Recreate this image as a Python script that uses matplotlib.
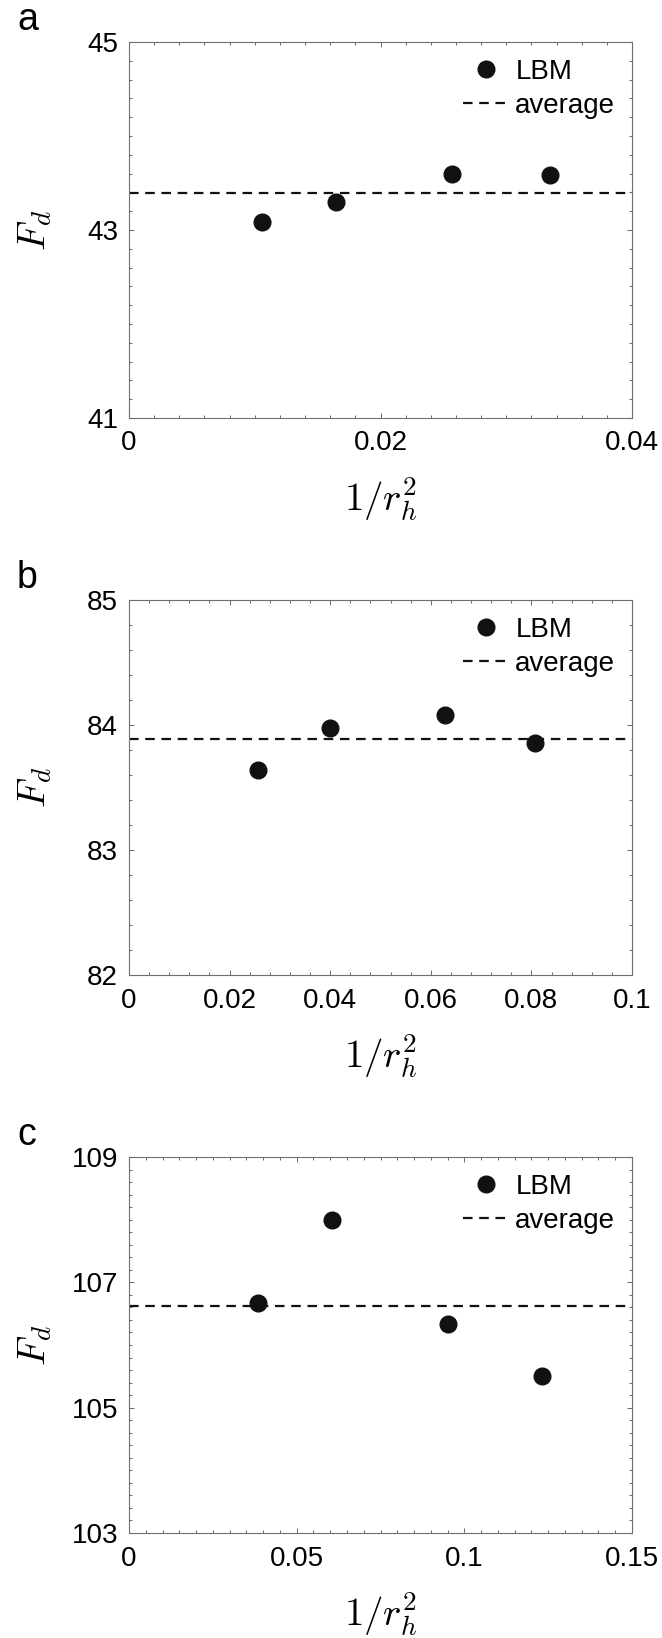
import numpy as np
import matplotlib
matplotlib.use("Agg")
import matplotlib.pyplot as plt
from matplotlib.ticker import MultipleLocator, FixedLocator

plt.rcParams["font.family"] = ["Liberation Sans", "DejaVu Sans"]
plt.rcParams["mathtext.fontset"] = "cm"

# panel a
xa = [0.0106, 0.0165, 0.0257, 0.0335]
ya = [43.08, 43.30, 43.60, 43.59]
# panel b
xb = [0.0256, 0.0399, 0.0628, 0.0808]
yb = [83.64, 83.98, 84.08, 83.86]
# panel c
xc = [0.0384, 0.0604, 0.0950, 0.1233]
yc = [106.67, 107.99, 106.33, 105.51]

letters = ["a", "b", "c"]
xlims = [(0, 0.04), (0, 0.1), (0, 0.15)]
ylims = [(41, 45), (82, 85), (103, 109)]
xticks = [[0, 0.02, 0.04], [0, 0.02, 0.04, 0.06, 0.08, 0.1], [0, 0.05, 0.1, 0.15]]
xticklabels = [["0", "0.02", "0.04"],
               ["0", "0.02", "0.04", "0.06", "0.08", "0.1"],
               ["0", "0.05", "0.1", "0.15"]]
yticks = [[41, 43, 45], [82, 83, 84, 85], [103, 105, 107, 109]]
xminor = [0.002, 0.004, 0.005]
yminor = [0.2, 0.2, 0.2]

W, H = 662, 1638
fig = plt.figure(figsize=(W / 100, H / 100), dpi=100)

# axes boxes in pixels: (top, bottom)
boxes = [(42, 418), (600, 975), (1157, 1533)]
left, right = 129, 632
frame = "#6e6e6e"

for i, (xs, ys) in enumerate([(xa, ya), (xb, yb), (xc, yc)]):
    top, bot = boxes[i]
    ax = fig.add_axes([left / W, 1 - bot / H, (right - left) / W, (bot - top) / H])
    avg = np.mean(ys)
    ax.plot(xs, ys, "o", color="#111111", markersize=12, label="LBM", zorder=3)
    ax.axhline(avg, color="#111111", lw=1.6, ls=(0, (4.3, 3.0)), label="average")
    ax.set_xlim(*xlims[i])
    ax.set_ylim(*ylims[i])
    ax.xaxis.set_major_locator(FixedLocator(xticks[i]))
    ax.set_xticklabels(xticklabels[i])
    ax.yaxis.set_major_locator(FixedLocator(yticks[i]))
    ax.set_yticklabels([str(v) for v in yticks[i]])
    ax.xaxis.set_minor_locator(MultipleLocator(xminor[i]))
    ax.yaxis.set_minor_locator(MultipleLocator(yminor[i]))
    ax.tick_params(which="both", direction="in", top=True, right=True,
                   color=frame, width=0.75)
    ax.tick_params(which="major", length=3.5, labelsize=20)
    ax.tick_params(which="minor", length=2)
    ax.tick_params(axis="x", which="major", pad=9)
    ax.tick_params(axis="y", which="major", pad=8)
    for s in ax.spines.values():
        s.set_color(frame)
        s.set_linewidth(0.8)
    ax.set_xlabel(r"$1/r_h^2$", fontsize=28)
    ax.set_ylabel(r"$F_d$", fontsize=28)
    ax.xaxis.set_label_coords(0.5, -0.152)
    ax.yaxis.set_label_coords(-0.15, 0.5)
    ax.legend(loc="upper right", frameon=False, fontsize=20, handlelength=1.7,
              handletextpad=0.2, labelspacing=0.3, borderaxespad=0.35,
              borderpad=0.25, numpoints=1)
    fig.text(17 / W, 1 - (top - 12) / H, letters[i], fontsize=27,
             ha="left", va="baseline")

fig.savefig("out.png", dpi=100)
